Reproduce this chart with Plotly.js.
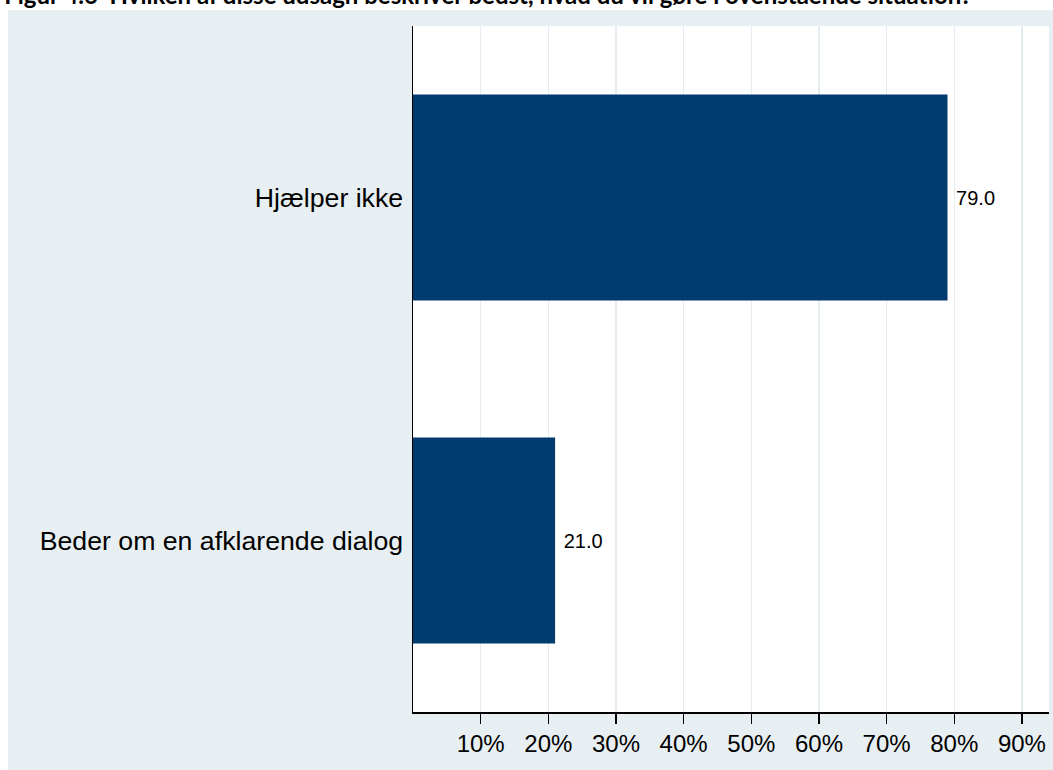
<!DOCTYPE html>
<html>
<head>
<meta charset="utf-8">
<script src="https://cdn.plot.ly/plotly-3.0.1.min.js"></script>
<style>
  html, body { margin: 0; padding: 0; background: #ffffff; }
  #chart { width: 1053px; height: 770px; }
</style>
</head>
<body>
<div id="chart"></div>
<script>
// Data (bottom-to-top order on the category axis)
const categories = ["Beder om en afklarende dialog", "Hjælper ikke"];
const percentages = [21.0, 79.0];
const tickValues = [10, 20, 30, 40, 50, 60, 70, 80, 90];
const tickLabels = ["10%", "20%", "30%", "40%", "50%", "60%", "70%", "80%", "90%"];
const titleText = "Figur 4.6  Hvilken af disse udsagn beskriver bedst, hvad du vil gøre i ovenstående situation?";

const barColor = "#023b6e";
const bgGray = "#e8eff2";
const gridColor = "#e3ecef";

const trace = {
  type: "bar",
  orientation: "h",
  y: categories,
  x: percentages,
  marker: { color: barColor, line: { width: 0 } },
  text: percentages.map(v => "\u00a0" + v.toFixed(1)),
  textposition: "outside",
  textfont: { family: "Liberation Sans, Arial, sans-serif", size: 20, color: "#000000" },
  cliponaxis: false,
  hoverinfo: "skip"
};

const layout = {
  width: 1053,
  height: 770,
  margin: { l: 413, r: 4, t: 26, b: 58, pad: 0 },
  paper_bgcolor: "#ffffff",
  plot_bgcolor: "#ffffff",
  showlegend: false,
  bargap: 0.4,
  title: {
    text: "<b>" + titleText + "</b>",
    font: { family: "Lato, sans-serif", size: 24, color: "#000000" },
    xref: "container", x: 0.004, xanchor: "left",
    yref: "container", y: 0.995, yanchor: "bottom",
    pad: { t: 0, b: 0, l: 0, r: 0 }
  },
  xaxis: {
    range: [0, 94],
    tickmode: "array",
    tickvals: tickValues,
    ticktext: tickLabels,
    ticks: "outside",
    ticklen: 10,
    tickwidth: 1.5,
    tickcolor: "#000000",
    showline: true,
    linecolor: "#000000",
    linewidth: 1.5,
    showgrid: true,
    gridcolor: gridColor,
    gridwidth: 1.5,
    zeroline: false,
    tickfont: { family: "Liberation Sans, Arial, sans-serif", size: 24, color: "#000000" },
    fixedrange: true
  },
  yaxis: {
    type: "category",
    categoryorder: "array",
    categoryarray: categories,
    range: [-0.5, 1.5],
    ticks: "",
    ticklabelstandoff: 3,
    showline: true,
    linecolor: "#000000",
    linewidth: 1.5,
    showgrid: false,
    zeroline: false,
    tickfont: { family: "Liberation Sans, Arial, sans-serif", size: 26.7, color: "#000000" },
    fixedrange: true
  },
  shapes: [{
    type: "rect",
    xref: "paper", yref: "paper",
    x0: -0.6368, x1: 1.0063,
    y0: -0.0846, y1: 1.0233,
    fillcolor: bgGray,
    line: { width: 0 },
    layer: "below"
  }, {
    type: "rect",
    xref: "paper", yref: "paper",
    x0: 0, x1: 1,
    y0: 0, y1: 1,
    fillcolor: "#ffffff",
    line: { width: 0 },
    layer: "below"
  }]
};

Plotly.newPlot("chart", [trace], layout, { displayModeBar: false, staticPlot: true });
</script>
</body>
</html>
